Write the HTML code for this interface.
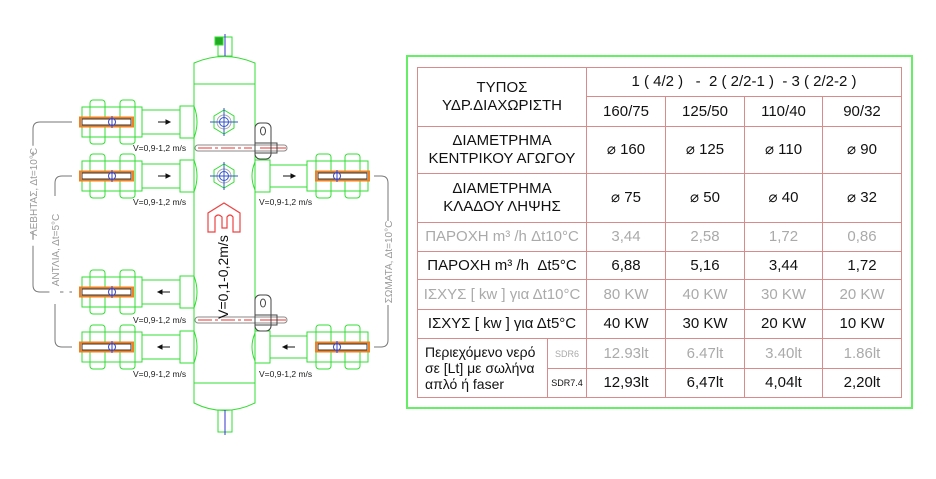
<!DOCTYPE html>
<html><head><meta charset="utf-8"><style>
body{margin:0;background:#fff;width:936px;height:479px;overflow:hidden;font-family:"Liberation Sans",sans-serif}
svg{position:absolute;left:0;top:0}
table{position:absolute;left:417px;top:67px;border-collapse:collapse;table-layout:fixed}
td{border:1.5px solid #d98a8a;text-align:center;padding:0;font-size:15px;color:#111;line-height:18px}
.g{color:#aaa}
.box{position:absolute;left:406px;top:55px;width:503px;height:350px;border:2px solid #66ee66}
</style></head><body>
<svg width="936" height="479" viewBox="0 0 936 479">
<defs>
<g id="lf" fill="none" stroke="#33dd33" stroke-width="1">
 <rect x="82" y="-15" width="60" height="30" fill="#fff"/>
 <rect x="90" y="-22" width="15" height="44" rx="3"/>
 <rect x="120" y="-22" width="15" height="44" rx="3"/>
 <line x1="90" y1="-15" x2="105" y2="-15"/><line x1="120" y1="-15" x2="135" y2="-15"/>
 <line x1="90" y1="15" x2="105" y2="15"/><line x1="120" y1="15" x2="135" y2="15"/>
 <rect x="142" y="-12" width="38" height="24"/>
 <rect x="180" y="-16" width="14" height="32"/>
 <path d="M194 -16 Q200 0 194 16"/>
 <rect x="80" y="-4.5" width="53" height="9" fill="#fff" stroke="#f08020" stroke-width="2"/>
 <rect x="82" y="-3" width="49" height="6" stroke="#333" stroke-width="1"/>
 <circle cx="112" cy="0" r="3.5" stroke="#3344cc"/>
 <line x1="112" y1="-6" x2="112" y2="6" stroke="#3344cc"/>
</g>
<g id="rf" fill="none" stroke="#33dd33" stroke-width="1">
 <path d="M255 -14 Q249 0 255 14"/>
 <rect x="255" y="-16" width="15" height="32"/>
 <rect x="270" y="-11" width="37" height="22"/>
 <rect x="307" y="-15" width="61" height="30" fill="#fff"/>
 <rect x="316" y="-22" width="15" height="44" rx="3"/>
 <rect x="345" y="-22" width="15" height="44" rx="3"/>
 <rect x="316" y="-4.5" width="53" height="9" fill="#fff" stroke="#f08020" stroke-width="2"/>
 <rect x="318" y="-3" width="49" height="6" stroke="#333"/>
 <circle cx="337" cy="0" r="3.5" stroke="#3344cc"/>
 <line x1="337" y1="-6" x2="337" y2="6" stroke="#3344cc"/>
</g>
<g id="nut" fill="none">
 <polygon points="-10,-6 0,-12 10,-6 10,6 0,12 -10,6" stroke="#33dd33"/>
 <circle r="7" stroke="#aaa"/><circle r="4.5" stroke="#3355cc"/>
 <line x1="-14" y1="0" x2="14" y2="0" stroke="#3355cc"/><line x1="0" y1="-14" x2="0" y2="14" stroke="#3355cc"/>
</g>
<g id="rod" fill="none">
 <rect x="195" y="-3" width="92" height="6" rx="3" stroke="#888"/>
 <line x1="198" y1="0" x2="252" y2="0" stroke="#e33" stroke-dasharray="14,3,3,3"/>
 <line x1="260" y1="0" x2="286" y2="0" stroke="#e33"/>
 <rect x="255" y="-25" width="16" height="36" rx="5" stroke="#444"/>
 <ellipse cx="263" cy="-17" rx="2.5" ry="4" stroke="#444"/>
 <rect x="255" y="-5" width="22" height="10" stroke="#444"/>
</g>
</defs>
<g fill="none" stroke="#33dd33" stroke-width="1">
 <rect x="218" y="37" width="14" height="19"/>
 <rect x="215" y="37" width="8" height="8" fill="#2a2"/>
 <path d="M194 84 L194 63 Q224 50 255 63 L255 84"/>
 <line x1="194" y1="84" x2="255" y2="84"/>
 <line x1="194" y1="84" x2="194" y2="383"/><line x1="255" y1="84" x2="255" y2="383"/>
 <line x1="194" y1="383" x2="255" y2="383"/>
 <path d="M194 383 L194 403 Q224 418 255 403 L255 383"/>
 <rect x="218" y="410" width="14" height="22"/>
</g>
<line x1="225" y1="34" x2="225" y2="56" stroke="#33c" stroke-width="1"/>
<line x1="225" y1="410" x2="225" y2="435" stroke="#33c" stroke-width="1"/>
<use href="#nut" x="224" y="122"/><use href="#nut" x="224" y="176"/>
<use href="#lf" y="122"/><use href="#lf" y="176"/><use href="#lf" y="292"/><use href="#lf" y="347"/>
<use href="#rf" y="176"/><use href="#rf" y="347"/>
<use href="#rod" y="148"/><use href="#rod" y="320"/>
<g fill="#111">
<path d="M158 122 h8 v-2 l4 2 -4 2 v-2z" stroke="#111" stroke-width="1"/>
<path d="M158 176 h8 v-2 l4 2 -4 2 v-2z" stroke="#111" stroke-width="1"/>
<path d="M170 292 h-8 v-2 l-4 2 4 2 v-2z" stroke="#111" stroke-width="1"/>
<path d="M170 347 h-8 v-2 l-4 2 4 2 v-2z" stroke="#111" stroke-width="1"/>
<path d="M283 176 h8 v-2 l4 2 -4 2 v-2z" stroke="#111" stroke-width="1"/>
<path d="M295 347 h-8 v-2 l-4 2 4 2 v-2z" stroke="#111" stroke-width="1"/>
</g>
<g fill="none" stroke="#e44" stroke-width="1.2">
<path d="M208 232 V213 L224 203 L240 213 V232 H233 V217 Q230 213 227 217 V228 H222 V217 Q218 213 215 217 V232 Z"/>
</g>
<text transform="translate(228,277) rotate(-90)" font-size="14" text-anchor="middle" fill="#111">V=0,1-0,2m/s</text>
<g font-size="8.5" fill="#222">
<text x="133" y="151">V=0,9-1,2 m/s</text>
<text x="133" y="205">V=0,9-1,2 m/s</text>
<text x="133" y="323">V=0,9-1,2 m/s</text>
<text x="133" y="377">V=0,9-1,2 m/s</text>
<text x="259" y="205">V=0,9-1,2 m/s</text>
<text x="259" y="377">V=0,9-1,2 m/s</text>
</g>
<g fill="none" stroke="#777" stroke-width="1">
<path d="M72 122 H40 Q33 122 33 129 V285 Q33 292 40 292 H72" stroke-dasharray="60,6,8,6"/>
<path d="M72 176 H62 Q55 176 55 183 V340 Q55 347 62 347 H72"/>
<path d="M374 176 H381 Q388 176 388 183 V340 Q388 347 381 347 H374"/>
</g>
<g font-size="10" fill="#999" text-anchor="middle">
<rect x="28" y="156" width="10" height="72" fill="#fff"/>
<text transform="translate(37,192) rotate(-90)">ΛΕΒΗΤΑΣ, Δt=10°C</text>
<rect x="50" y="196" width="10" height="108" fill="#fff"/>
<text transform="translate(59,250) rotate(-90)">ΑΝΤΛΙΑ, Δt=5°C</text>
<rect x="383" y="221" width="10" height="84" fill="#fff"/>
<text transform="translate(392,262) rotate(-90)">ΣΩΜΑΤΑ, Δt=10°C</text>
</g>
</svg>
<div class="box"></div>
<table>
<colgroup><col style="width:130px"><col style="width:39px"><col style="width:79px"><col style="width:79px"><col style="width:78px"><col style="width:79px"></colgroup>
<tr style="height:29px"><td colspan="2" rowspan="2">ΤΥΠΟΣ<br>ΥΔΡ.ΔΙΑΧΩΡΙΣΤΗ</td><td colspan="4">1 ( 4/2 )&nbsp;&nbsp; - &nbsp;2 ( 2/2-1 )&nbsp; - 3 ( 2/2-2 )</td></tr>
<tr style="height:30px"><td>160/75</td><td>125/50</td><td>110/40</td><td>90/32</td></tr>
<tr style="height:47px"><td colspan="2">ΔΙΑΜΕΤΡΗΜΑ<br>ΚΕΝΤΡΙΚΟΥ ΑΓΩΓΟΥ</td><td>⌀ 160</td><td>⌀ 125</td><td>⌀ 110</td><td>⌀ 90</td></tr>
<tr style="height:49px"><td colspan="2">ΔΙΑΜΕΤΡΗΜΑ<br>ΚΛΑΔΟΥ ΛΗΨΗΣ</td><td>⌀ 75</td><td>⌀ 50</td><td>⌀ 40</td><td>⌀ 32</td></tr>
<tr style="height:29px"><td colspan="2" class="g">ΠΑΡΟΧΗ m³ /h Δt10°C</td><td class="g">3,44</td><td class="g">2,58</td><td class="g">1,72</td><td class="g">0,86</td></tr>
<tr style="height:28px"><td colspan="2">ΠΑΡΟΧΗ m³ /h&nbsp; Δt5°C</td><td>6,88</td><td>5,16</td><td>3,44</td><td>1,72</td></tr>
<tr style="height:30px"><td colspan="2" class="g">ΙΣΧΥΣ [ kw ] για Δt10°C</td><td class="g">80 KW</td><td class="g">40 KW</td><td class="g">30 KW</td><td class="g">20 KW</td></tr>
<tr style="height:29px"><td colspan="2">ΙΣΧΥΣ [ kw ] για Δt5°C</td><td>40 KW</td><td>30 KW</td><td>20 KW</td><td>10 KW</td></tr>
<tr style="height:30px"><td rowspan="2" style="text-align:left;padding-left:7px;font-size:14px;line-height:16px">Περιεχόμενο νερό<br>σε [Lt] με σωλήνα<br>απλό ή faser</td><td class="g" style="font-size:9px">SDR6</td><td class="g">12.93lt</td><td class="g">6.47lt</td><td class="g">3.40lt</td><td class="g">1.86lt</td></tr>
<tr style="height:29px"><td style="font-size:9px">SDR7.4</td><td>12,93lt</td><td>6,47lt</td><td>4,04lt</td><td>2,20lt</td></tr>
</table>
</body></html>
